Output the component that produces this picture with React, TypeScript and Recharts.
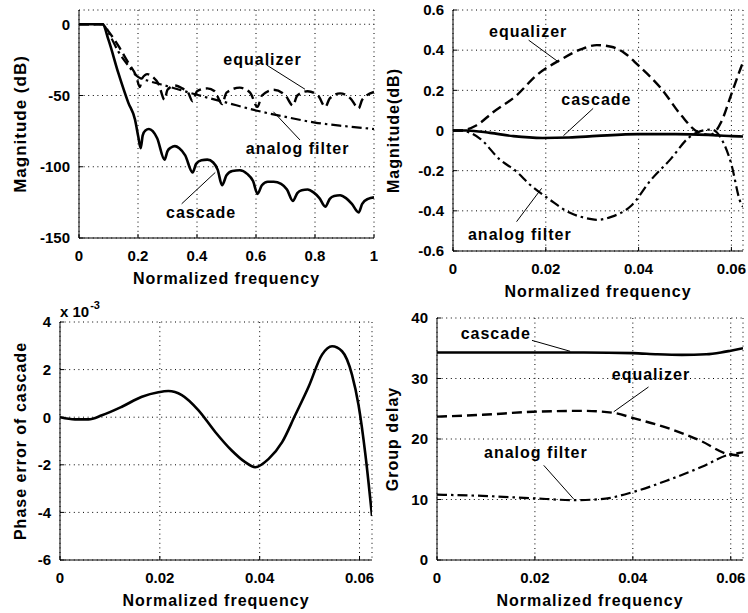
import React from 'react';
import { LineChart, Line, XAxis, YAxis, CartesianGrid, ReferenceLine, ReferenceDot } from 'recharts';

// ---------- Panel 1: magnitude response (dB) over full band ----------
const p1Ticks = [0, 0.2, 0.4, 0.6, 0.8, 1];
const p1YTicks = [-150, -100, -50, 0];
const p1CascadeX = [0, 0.04, 0.08, 0.1, 0.133, 0.167, 0.19, 0.201, 0.209, 0.216, 0.225, 0.237, 0.25, 0.265, 0.29, 0.3, 0.312, 0.325, 0.34, 0.36, 0.385, 0.397, 0.415, 0.435, 0.455, 0.47, 0.485, 0.5, 0.52, 0.545, 0.57, 0.59, 0.605, 0.62, 0.64, 0.66, 0.685, 0.705, 0.725, 0.74, 0.755, 0.775, 0.795, 0.815, 0.835, 0.85, 0.865, 0.885, 0.905, 0.925, 0.948, 0.96, 0.98, 1.0];
const p1CascadeDb = [0, 0, 0, -11, -34, -55, -67, -79, -87, -78, -74.5, -73.5, -75, -80, -95, -89, -86.5, -85.5, -87, -92, -104, -98, -95.5, -95, -97, -102, -113, -106, -103, -102.5, -105, -110, -119, -113, -110.5, -110.5, -112, -116, -124, -118.5, -116.5, -116, -118, -122, -128, -122.5, -120.5, -120, -122, -126, -132, -126, -122.5, -121.5];
const p1EqualizerX = [0, 0.04, 0.08, 0.1, 0.133, 0.167, 0.194, 0.206, 0.214, 0.232, 0.25, 0.27, 0.29, 0.3, 0.325, 0.35, 0.37, 0.385, 0.4, 0.435, 0.46, 0.485, 0.5, 0.545, 0.58, 0.605, 0.62, 0.66, 0.7, 0.725, 0.74, 0.775, 0.81, 0.835, 0.85, 0.885, 0.92, 0.948, 0.96, 1.0];
const p1EqualizerDb = [0, 0, 0, -5, -15, -27, -36.5, -44, -38, -35, -37, -42, -53, -46, -43, -45, -48, -54, -47, -45, -47, -56, -48, -44.5, -48, -58, -50, -46, -50, -57, -50, -47, -50, -58, -52, -48.5, -52, -59, -53, -47.5];
const p1AnalogX = [0, 0.04, 0.08, 0.1, 0.133, 0.167, 0.2, 0.24, 0.3, 0.4, 0.5, 0.6, 0.7, 0.8, 0.9, 1.0];
const p1AnalogDb = [0, 0, 0, -6, -19, -29, -37, -40, -43.5, -49.5, -55, -60.5, -65, -69, -71.5, -73.5];

// ---------- Panel 2: passband magnitude (dB) ----------
const bandTicks = [0, 0.02, 0.04, 0.06];
const p2YTicks = [-0.6, -0.4, -0.2, 0, 0.2, 0.4, 0.6];
const p2EqualizerX = [0, 0.0015, 0.005, 0.0087, 0.0137, 0.018, 0.023, 0.028, 0.031, 0.0341, 0.037, 0.0399, 0.0449, 0.0492, 0.0528, 0.0555, 0.0578, 0.0599, 0.062, 0.0625];
const p2EqualizerDb = [0, 0, 0.025, 0.092, 0.175, 0.275, 0.35, 0.408, 0.425, 0.417, 0.385, 0.325, 0.208, 0.075, -0.008, -0.022, 0.042, 0.175, 0.31, 0.34];
const p2AnalogX = [0, 0.0015, 0.0058, 0.0101, 0.0137, 0.0166, 0.0209, 0.0252, 0.0295, 0.031, 0.0341, 0.0384, 0.0427, 0.047, 0.0506, 0.0528, 0.0557, 0.0578, 0.0599, 0.062, 0.0625];
const p2AnalogDb = [0, 0, -0.04, -0.145, -0.205, -0.27, -0.345, -0.41, -0.44, -0.445, -0.43, -0.375, -0.245, -0.14, -0.04, -0.008, 0.005, -0.04, -0.16, -0.36, -0.38];
const p2CascadeX = [0, 0.003, 0.008, 0.013, 0.0193, 0.025, 0.031, 0.04, 0.048, 0.055, 0.06, 0.0625];
const p2CascadeDb = [0, 0, -0.012, -0.028, -0.037, -0.035, -0.027, -0.018, -0.018, -0.022, -0.028, -0.03];

// ---------- Panel 3: phase error of cascade (x 10^-3) ----------
const p3YTicks = [-6, -4, -2, 0, 2, 4];
const p3PhaseX = [0, 0.003, 0.0057, 0.0084, 0.0124, 0.0164, 0.0197, 0.0217, 0.0244, 0.0277, 0.0311, 0.0344, 0.0371, 0.0391, 0.0418, 0.0445, 0.0471, 0.0498, 0.0525, 0.0545, 0.0565, 0.0585, 0.0598, 0.0612, 0.0625];
const p3PhaseErr = [0, -0.09, -0.09, 0.08, 0.44, 0.86, 1.05, 1.1, 0.93, 0.3, -0.62, -1.4, -1.89, -2.1, -1.75, -1.05, 0.08, 1.28, 2.63, 2.98, 2.77, 1.78, 0.51, -1.61, -4.15];

// ---------- Panel 4: group delay ----------
const p4YTicks = [0, 10, 20, 30, 40];
const p4CascadeX = [0, 0.01, 0.02, 0.03, 0.04, 0.045, 0.05, 0.055, 0.058, 0.06, 0.0625];
const p4CascadeGd = [34.3, 34.3, 34.3, 34.3, 34.2, 34.0, 33.9, 34.0, 34.3, 34.6, 35.0];
const p4EqualizerX = [0, 0.0093, 0.0196, 0.03, 0.0362, 0.0403, 0.0472, 0.0541, 0.059, 0.0617, 0.0625];
const p4EqualizerGd = [23.7, 24.0, 24.5, 24.65, 24.3, 23.4, 21.8, 19.6, 17.6, 17.2, 17.0];
const p4AnalogX = [0, 0.0093, 0.0196, 0.0279, 0.0334, 0.0403, 0.0472, 0.0541, 0.0596, 0.0617, 0.0625];
const p4AnalogGd = [10.8, 10.6, 10.2, 9.9, 10.05, 11.3, 13.2, 15.4, 17.4, 17.7, 17.8];

const zip = (xs: number[], ys: number[]) => xs.map((x, i) => ({ x, y: ys[i] }));

type Kind = 'solid' | 'dash' | 'dashdot';
type Series = { data: { x: number; y: number }[]; kind: Kind };
type Note = { text: string; tx: number; ty: number; seg: [number, number, number, number] };

const FONT = '"Liberation Sans", Arial, Helvetica, sans-serif';

const styleFor = (k: Kind) => {
  if (k === 'solid') return { strokeWidth: 2.6, strokeDasharray: undefined as string | undefined };
  if (k === 'dash') return { strokeWidth: 2.4, strokeDasharray: '10 5' };
  return { strokeWidth: 2.2, strokeDasharray: '10 4 2.5 4' };
};

const yLabelContent = (text: string, cx: number, size: number) => (props: any) => {
  const vb = props.viewBox || { x: 0, y: 0, width: 0, height: 0 };
  const x = vb.x + cx;
  const y = vb.y + vb.height / 2;
  return (
    <text x={x} y={y} transform={`rotate(-90, ${x}, ${y})`} textAnchor="middle" dominantBaseline="central"
      fontSize={size} fontWeight="bold" letterSpacing={1} fill="#000" fontFamily={FONT}>{text}</text>
  );
};

const xLabelContent = (text: string, dy: number) => (props: any) => {
  const vb = props.viewBox || { x: 0, y: 0, width: 0, height: 0 };
  const x = vb.x + vb.width / 2;
  const y = vb.y + dy;
  return (
    <text x={x} y={y} textAnchor="middle" dominantBaseline="central"
      fontSize={16} fontWeight="bold" letterSpacing={1} fill="#000" fontFamily={FONT}>{text}</text>
  );
};

const noteContent = (text: string) => (props: any) => {
  const vb = props.viewBox || { x: 0, y: 0, width: 0, height: 0 };
  const x = vb.x + vb.width / 2;
  const y = vb.y + vb.height / 2;
  return (
    <text x={x} y={y} textAnchor="middle" dominantBaseline="central"
      fontSize={16} fontWeight="bold" letterSpacing={1} fill="#000" fontFamily={FONT}>{text}</text>
  );
};

type PanelProps = {
  box: { left: number; top: number; width: number; height: number };
  plot: { x0: number; x1: number; y0: number; y1: number };
  xDomain: [number, number];
  xTicks: number[];
  yDomain: [number, number];
  yTicks: number[];
  yLabel: string;
  yLabelX: number;
  yLabelSize?: number;
  series: Series[];
  notes: Note[];
};

function Panel({ box, plot, xDomain, xTicks, yDomain, yTicks, yLabel, yLabelX, yLabelSize, series, notes }: PanelProps) {
  const margin = { top: plot.y0 - box.top, right: box.left + box.width - plot.x1, bottom: 0, left: 0 };
  const yAxisW = plot.x0 - box.left;
  const xAxisH = box.top + box.height - plot.y1;
  const tickStyle = { fill: '#000', fontSize: 15, fontWeight: 'bold', fontFamily: FONT };
  return (
    <div style={{ position: 'absolute', left: box.left, top: box.top, width: box.width, height: box.height }}>
      <LineChart width={box.width} height={box.height} margin={margin}>
        <CartesianGrid stroke="#000" strokeDasharray="1 3.6" strokeWidth={1} />
        <XAxis dataKey="x" type="number" domain={xDomain} ticks={xTicks} interval={0} allowDataOverflow
          height={xAxisH} tickSize={-4} tickMargin={16} stroke="#000" tick={tickStyle}
          label={{ content: xLabelContent('Normalized frequency', 40) }} />
        <XAxis xAxisId="top" orientation="top" type="number" domain={xDomain} ticks={xTicks} interval={0}
          allowDataOverflow height={0} tickSize={-4} tick={false} stroke="#000" />
        <YAxis type="number" domain={yDomain} ticks={yTicks} interval={0} allowDataOverflow
          width={yAxisW} tickSize={-4} tickMargin={13} stroke="#000" tick={tickStyle}
          label={{ content: yLabelContent(yLabel, yLabelX, yLabelSize || 16) }} />
        <YAxis yAxisId="right" orientation="right" type="number" domain={yDomain} ticks={yTicks} interval={0}
          allowDataOverflow width={0} tickSize={-4} tick={false} stroke="#000" />
        {series.map((s, i) => {
          const st = styleFor(s.kind);
          return (
            <Line key={i} data={s.data} dataKey="y" type="monotone" stroke="#000"
              strokeWidth={st.strokeWidth} strokeDasharray={st.strokeDasharray}
              dot={false} activeDot={false} isAnimationActive={false} />
          );
        })}
        {notes.map((n, i) => (
          <ReferenceLine key={'l' + i} segment={[{ x: n.seg[0], y: n.seg[1] }, { x: n.seg[2], y: n.seg[3] }]}
            stroke="#000" strokeWidth={1} ifOverflow="visible" />
        ))}
        {notes.map((n, i) => (
          <ReferenceDot key={'t' + i} x={n.tx} y={n.ty} r={0} fill="none" stroke="none" ifOverflow="visible"
            label={{ content: noteContent(n.text) }} />
        ))}
      </LineChart>
    </div>
  );
}

export default function App() {
  return (
    <div style={{ position: 'absolute', left: 0, top: 0, width: 748, height: 613, background: '#fff', fontFamily: FONT, fontWeight: 'bold', overflow: 'hidden' }}>
      <Panel
        box={{ left: 0, top: 0, width: 378, height: 300 }}
        plot={{ x0: 79, x1: 374, y0: 10, y1: 238 }}
        xDomain={[0, 1]} xTicks={p1Ticks} yDomain={[-150, 10]} yTicks={p1YTicks}
        yLabel="Magnitude (dB)" yLabelX={20} yLabelSize={17}
        series={[
          { data: zip(p1AnalogX, p1AnalogDb), kind: 'dashdot' },
          { data: zip(p1EqualizerX, p1EqualizerDb), kind: 'dash' },
          { data: zip(p1CascadeX, p1CascadeDb), kind: 'solid' },
        ]}
        notes={[
          { text: 'equalizer', tx: 0.622, ty: -25, seg: [0.636, -28.6, 0.766, -45.6] },
          { text: 'analog filter', tx: 0.741, ty: -87, seg: [0.659, -61.4, 0.749, -81.2] },
          { text: 'cascade', tx: 0.414, ty: -132, seg: [0.348, -126, 0.462, -104] },
        ]}
      />
      <Panel
        box={{ left: 378, top: 0, width: 370, height: 300 }}
        plot={{ x0: 453, x1: 743, y0: 10, y1: 251 }}
        xDomain={[0, 0.0625]} xTicks={bandTicks} yDomain={[-0.6, 0.6]} yTicks={p2YTicks}
        yLabel="Magnitude(dB)" yLabelX={15}
        series={[
          { data: zip(p2AnalogX, p2AnalogDb), kind: 'dashdot' },
          { data: zip(p2EqualizerX, p2EqualizerDb), kind: 'dash' },
          { data: zip(p2CascadeX, p2CascadeDb), kind: 'solid' },
        ]}
        notes={[
          { text: 'equalizer', tx: 0.0162, ty: 0.495, seg: [0.0163, 0.45, 0.0228, 0.34] },
          { text: 'cascade', tx: 0.0309, ty: 0.152, seg: [0.0302, 0.11, 0.0238, -0.026] },
          { text: 'analog filter', tx: 0.0144, ty: -0.52, seg: [0.0137, -0.454, 0.0191, -0.288] },
        ]}
      />
      <Panel
        box={{ left: 0, top: 300, width: 378, height: 313 }}
        plot={{ x0: 60, x1: 372, y0: 322, y1: 560 }}
        xDomain={[0, 0.0625]} xTicks={bandTicks} yDomain={[-6, 4]} yTicks={p3YTicks}
        yLabel="Phase error of cascade" yLabelX={20}
        series={[{ data: zip(p3PhaseX, p3PhaseErr), kind: 'solid' }]}
        notes={[]}
      />
      <div style={{ position: 'absolute', left: 60, top: 304, fontSize: 15, lineHeight: '15px', color: '#000', whiteSpace: 'nowrap' }}>
        x 10<span style={{ fontSize: 11, position: 'relative', top: -8, marginLeft: 1 }}>-3</span>
      </div>
      <Panel
        box={{ left: 378, top: 300, width: 370, height: 313 }}
        plot={{ x0: 437, x1: 743, y0: 318, y1: 560 }}
        xDomain={[0, 0.0625]} xTicks={bandTicks} yDomain={[0, 40]} yTicks={p4YTicks}
        yLabel="Group delay" yLabelX={14}
        series={[
          { data: zip(p4AnalogX, p4AnalogGd), kind: 'dashdot' },
          { data: zip(p4EqualizerX, p4EqualizerGd), kind: 'dash' },
          { data: zip(p4CascadeX, p4CascadeGd), kind: 'solid' },
        ]}
        notes={[
          { text: 'cascade', tx: 0.012, ty: 37.5, seg: [0.0194, 36.3, 0.0272, 34.5] },
          { text: 'equalizer', tx: 0.0437, ty: 30.7, seg: [0.0432, 28.6, 0.0361, 24.5] },
          { text: 'analog filter', tx: 0.0202, ty: 17.85, seg: [0.0218, 15.65, 0.0279, 10.1] },
        ]}
      />
    </div>
  );
}
